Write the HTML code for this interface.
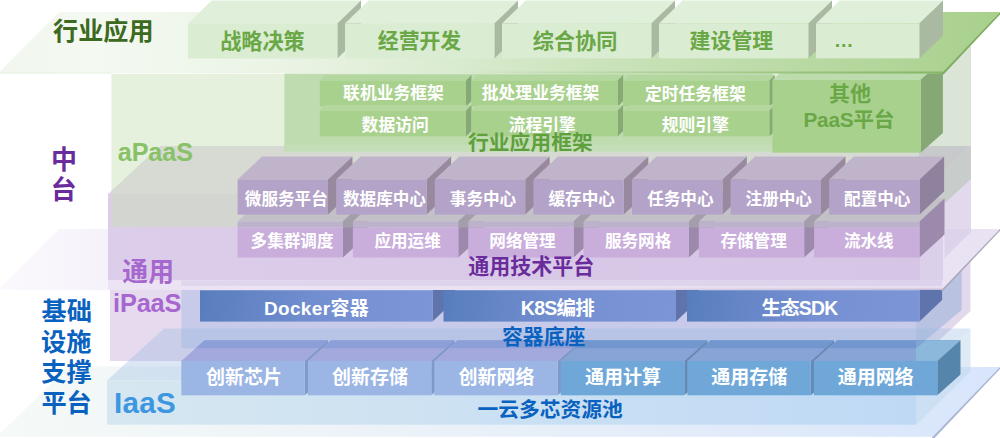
<!DOCTYPE html>
<html lang="zh-CN">
<head>
<meta charset="utf-8">
<title>云平台总体架构</title>
<style>
html,body{margin:0;padding:0;background:#fff;}
body{width:1000px;height:438px;position:relative;overflow:hidden;font-family:"Liberation Sans",sans-serif;}
#stage{position:absolute;left:0;top:0;width:1000px;height:438px;overflow:hidden;background:#fff;}
#labels span{position:absolute;display:block;white-space:nowrap;overflow:hidden;font-weight:bold;color:transparent;font-family:"Liberation Sans",sans-serif;}
svg text{font-family:"Liberation Sans","Noto Sans CJK SC",sans-serif;font-weight:bold;}
</style>
</head>
<body>
<div id="stage">
<svg width="1000" height="438" viewBox="0 0 1000 438" style="position:absolute;left:0;top:0;display:block"><defs><linearGradient id="g1" gradientUnits="userSpaceOnUse" x1="0" y1="0" x2="1000" y2="0"><stop offset="0" stop-color="#f5f9f7"/><stop offset="0.35" stop-color="#edf3f8"/><stop offset="1" stop-color="#d8e5fb"/></linearGradient><linearGradient id="g2" gradientUnits="userSpaceOnUse" x1="107" y1="0" x2="916" y2="0"><stop offset="0" stop-color="#d6e7f0"/><stop offset="1" stop-color="#bfd9f5"/></linearGradient><linearGradient id="g3" gradientUnits="userSpaceOnUse" x1="200" y1="290" x2="432.5" y2="322"><stop offset="0" stop-color="#587dbd"/><stop offset="0.55" stop-color="#7590d2"/><stop offset="1" stop-color="#7c95d7"/></linearGradient><linearGradient id="g4" gradientUnits="userSpaceOnUse" x1="443.5" y1="290" x2="676" y2="322"><stop offset="0" stop-color="#587dbd"/><stop offset="0.55" stop-color="#7590d2"/><stop offset="1" stop-color="#7c95d7"/></linearGradient><linearGradient id="g5" gradientUnits="userSpaceOnUse" x1="687" y1="290" x2="919.5" y2="322"><stop offset="0" stop-color="#587dbd"/><stop offset="0.55" stop-color="#7590d2"/><stop offset="1" stop-color="#7c95d7"/></linearGradient><linearGradient id="g6" gradientUnits="userSpaceOnUse" x1="0" y1="0" x2="1000" y2="0"><stop offset="0" stop-color="#fbf9fd"/><stop offset="0.12" stop-color="#f5f1fa"/><stop offset="0.4" stop-color="#f0eaf6"/><stop offset="1" stop-color="#e9e2f3"/></linearGradient><linearGradient id="g7" gradientUnits="userSpaceOnUse" x1="108" y1="0" x2="920" y2="0"><stop offset="0" stop-color="#dccdea"/><stop offset="1" stop-color="#d6c5e5"/></linearGradient><linearGradient id="g8" gradientUnits="userSpaceOnUse" x1="108" y1="0" x2="942" y2="0"><stop offset="0" stop-color="#ece4f4"/><stop offset="1" stop-color="#e7def1"/></linearGradient><linearGradient id="g9" gradientUnits="userSpaceOnUse" x1="500" y1="0" x2="942" y2="0"><stop offset="0" stop-color="#c9bfd8" stop-opacity="0"/><stop offset="1" stop-color="#c4bad3" stop-opacity="0.9"/></linearGradient><linearGradient id="g10" gradientUnits="userSpaceOnUse" x1="0" y1="0" x2="1000" y2="0"><stop offset="0" stop-color="#f1f7ee"/><stop offset="0.1" stop-color="#f4f9f1"/><stop offset="0.3" stop-color="#e9f3e3"/><stop offset="0.6" stop-color="#cbe3bc"/><stop offset="1" stop-color="#a8d08c"/></linearGradient><linearGradient id="g11" gradientUnits="userSpaceOnUse" x1="450" y1="0" x2="942" y2="0"><stop offset="0" stop-color="#8ebc70" stop-opacity="0"/><stop offset="0.6" stop-color="#8ebc70" stop-opacity="0.6"/><stop offset="1" stop-color="#86b667" stop-opacity="1"/></linearGradient><linearGradient id="g12" gradientUnits="userSpaceOnUse" x1="188" y1="0" x2="337.4" y2="0"><stop offset="0" stop-color="#d9ebd0"/><stop offset="1" stop-color="#dcedd4"/></linearGradient><linearGradient id="g13" gradientUnits="userSpaceOnUse" x1="345" y1="0" x2="494.4" y2="0"><stop offset="0" stop-color="#d9ebd0"/><stop offset="1" stop-color="#dcedd4"/></linearGradient><linearGradient id="g14" gradientUnits="userSpaceOnUse" x1="502" y1="0" x2="651.4" y2="0"><stop offset="0" stop-color="#d9ebd0"/><stop offset="1" stop-color="#dcedd4"/></linearGradient><linearGradient id="g15" gradientUnits="userSpaceOnUse" x1="659" y1="0" x2="808.4" y2="0"><stop offset="0" stop-color="#d9ebd0"/><stop offset="1" stop-color="#dcedd4"/></linearGradient><linearGradient id="g16" gradientUnits="userSpaceOnUse" x1="816" y1="0" x2="919.4" y2="0"><stop offset="0" stop-color="#d9ebd0"/><stop offset="1" stop-color="#dcedd4"/></linearGradient></defs>
<polygon points="68.5,366.5 1000,367 933,436.8 -3,436.8" fill="url(#g1)"/>
<polygon points="1000,367 1000,369 934.5,438 931.5,438 933,436.5" fill="#a9b6d3"/>
<polygon points="917,300 970.5,250 970.5,311 917,361" fill="#e2d9ed"/>
<rect x="110" y="284" width="807" height="77" fill="#e6daef"/>
<polygon points="916,290 961.7,248 961.7,310 916,348.3" fill="#bac2e1"/>
<rect x="181.3" y="284" width="734.7" height="64.3" fill="#c8cae9"/>
<polygon points="916,380.5 970.5,328.5 970.5,371.5 916,425" fill="rgba(190,215,235,0.5)"/>
<polygon points="107,380.5 164,328.5 970.5,328.5 916,380.5" fill="rgba(150,185,222,0.34)"/>
<rect x="107" y="380.5" width="809" height="44.2" fill="url(#g2)"/>
<polygon points="432.5,290.3 455.1,268.8 455.1,300.1 432.5,321.6" fill="#5f73ad"/>
<rect x="200" y="290.3" width="232.5" height="31.3" fill="url(#g3)"/>
<polygon points="676,290.3 698.6,268.8 698.6,300.1 676,321.6" fill="#5f73ad"/>
<rect x="443.5" y="290.3" width="232.5" height="31.3" fill="url(#g4)"/>
<polygon points="919.5,290.3 942.1,268.8 942.1,300.1 919.5,321.6" fill="#5f73ad"/>
<rect x="687" y="290.3" width="232.5" height="31.3" fill="url(#g5)"/>
<polygon points="181.3,361 204.5,340.2 328,340.2 304.8,361" fill="#a4a9dd"/>
<polygon points="195.5,348.3 204.5,340.2 328,340.2 319,348.3" fill="#8c9fd8"/>
<polygon points="304.8,361 328,340.2 328,374.5 304.8,395.3" fill="#7f98c6"/>
<rect x="181.3" y="361" width="123.5" height="34.3" fill="#9bb5e4"/>
<polygon points="307.8,361 331,340.2 454.5,340.2 431.3,361" fill="#a4a9dd"/>
<polygon points="322,348.3 331,340.2 454.5,340.2 445.5,348.3" fill="#8c9fd8"/>
<polygon points="431.3,361 454.5,340.2 454.5,374.5 431.3,395.3" fill="#7f98c6"/>
<rect x="307.8" y="361" width="123.5" height="34.3" fill="#9bb5e4"/>
<polygon points="434.3,361 457.5,340.2 581,340.2 557.8,361" fill="#a4a9dd"/>
<polygon points="448.5,348.3 457.5,340.2 581,340.2 572,348.3" fill="#8c9fd8"/>
<polygon points="557.8,361 581,340.2 581,374.5 557.8,395.3" fill="#7f98c6"/>
<rect x="434.3" y="361" width="123.5" height="34.3" fill="#9bb5e4"/>
<polygon points="560.8,361 584,340.2 707.5,340.2 684.3,361" fill="#88a3d5"/>
<polygon points="575,348.3 584,340.2 707.5,340.2 698.5,348.3" fill="#7297cf"/>
<polygon points="684.3,361 707.5,340.2 707.5,374.5 684.3,395.3" fill="#6489b6"/>
<rect x="560.8" y="361" width="123.5" height="34.3" fill="#6fa8d8"/>
<polygon points="687.3,361 710.5,340.2 834,340.2 810.8,361" fill="#88a3d5"/>
<polygon points="701.5,348.3 710.5,340.2 834,340.2 825,348.3" fill="#7297cf"/>
<polygon points="810.8,361 834,340.2 834,374.5 810.8,395.3" fill="#6489b6"/>
<rect x="687.3" y="361" width="123.5" height="34.3" fill="#6fa8d8"/>
<polygon points="813.8,361 837,340.2 960.5,340.2 937.3,361" fill="#88a3d5"/>
<polygon points="828,348.3 837,340.2 960.5,340.2 951.5,348.3" fill="#7297cf"/>
<polygon points="916,361 916,348.3 925.7,340.2 960.5,340.2 937.3,361" fill="#8cb8dc"/>
<polygon points="916,348.3 916,340.2 925.7,340.2" fill="#80a4d6"/>
<polygon points="937.3,361 960.5,340.2 960.5,374.5 937.3,395.3" fill="#5685ab"/>
<rect x="813.8" y="361" width="123.5" height="34.3" fill="#6fa8d8"/>
<polygon points="108,194 160,146 971,146 921,194" fill="#e4d5ec"/>
<polygon points="921,194 971,146 971,232 921,280.5" fill="#e3d9ec"/>
<rect x="108" y="194" width="813" height="86.5" fill="#ddcde8"/>
<polygon points="919,74 971,26 971,179 919,227" fill="rgba(150,180,140,0.35)"/>
<rect x="111.4" y="74" width="807.6" height="153.2" fill="rgba(197,224,180,0.45)"/>
<polygon points="59,229 1000,229 942,290 -2,290" fill="url(#g6)"/>
<polygon points="1000,229 1000,230.8 943,290.8 941,290.8 942,289.5" fill="#aca6b8"/>
<polygon points="944.5,229 971,229 971,232 944.5,258" fill="rgba(200,180,220,0.35)"/>
<rect x="920" y="229" width="23" height="51.5" fill="#dbcfea"/>
<rect x="108" y="227.2" width="812" height="53.3" fill="url(#g7)"/>
<rect x="108" y="280.5" width="834" height="9.5" fill="url(#g8)"/>
<rect x="181.3" y="280.5" width="760.7" height="5.3" fill="rgba(190,165,215,0.22)"/>
<polygon points="500,288.6 943,288.6 942,290 500,290" fill="url(#g9)"/>
<rect x="284.4" y="73.5" width="488.6" height="78" fill="#bedcaf"/>
<rect x="284.4" y="144.8" width="488.6" height="6.7" fill="#c4dfb8"/>
<polygon points="319.8,80.6 325.3,75.1 471.5,75.1 466,80.6" fill="#b3d79f"/>
<polygon points="466,80.6 471.5,75.1 471.5,100.9 466,106.4" fill="#87a975"/>
<rect x="319.8" y="80.6" width="146.2" height="25.8" fill="#a9d18e"/>
<polygon points="471.5,80.6 477,75.1 623.2,75.1 617.7,80.6" fill="#b3d79f"/>
<polygon points="617.7,80.6 623.2,75.1 623.2,100.9 617.7,106.4" fill="#87a975"/>
<rect x="471.5" y="80.6" width="146.2" height="25.8" fill="#a9d18e"/>
<polygon points="623.2,80.6 628.7,75.1 774.9,75.1 769.4,80.6" fill="#b3d79f"/>
<polygon points="769.4,80.6 774.9,75.1 774.9,100.9 769.4,106.4" fill="#87a975"/>
<rect x="623.2" y="80.6" width="146.2" height="25.8" fill="#a9d18e"/>
<polygon points="319.8,110.6 325.3,105.1 471.5,105.1 466,110.6" fill="#b3d79f"/>
<polygon points="466,110.6 471.5,105.1 471.5,130.9 466,136.4" fill="#87a975"/>
<rect x="319.8" y="110.6" width="146.2" height="25.8" fill="#a9d18e"/>
<polygon points="471.5,110.6 477,105.1 623.2,105.1 617.7,110.6" fill="#b3d79f"/>
<polygon points="617.7,110.6 623.2,105.1 623.2,130.9 617.7,136.4" fill="#87a975"/>
<rect x="471.5" y="110.6" width="146.2" height="25.8" fill="#a9d18e"/>
<polygon points="623.2,110.6 628.7,105.1 774.9,105.1 769.4,110.6" fill="#b3d79f"/>
<polygon points="769.4,110.6 774.9,105.1 774.9,130.9 769.4,136.4" fill="#87a975"/>
<rect x="623.2" y="110.6" width="146.2" height="25.8" fill="#a9d18e"/>
<polygon points="772.4,79.7 794.7,59.9 942.9,59.9 920.6,79.7" fill="#bddcae"/>
<polygon points="920.6,79.7 942.9,59.9 942.9,132.9 920.6,152.7" fill="#86a874"/>
<rect x="772.4" y="79.7" width="148.2" height="73" fill="#a9d18e"/>
<polygon points="59,12 1000,12 942,73.5 -2,73.5" fill="url(#g10)"/>
<polygon points="450,71.6 943.4,71.6 942,73.5 450,73.5" fill="url(#g11)"/>
<polygon points="1000,12 1000,14.5 943.5,74.5 940,74.5 942,73" fill="#7fae62"/>
<rect x="0" y="72.5" width="111.4" height="1" fill="#e7f1e1"/>
<polygon points="188,23.6 211.6,0.6 361,0.6 337.4,23.6" fill="#e0efd9"/>
<polygon points="337.4,23.6 361,0.6 361,35.4 337.4,58.4" fill="#a9b9a2"/>
<rect x="188" y="23.6" width="149.4" height="34.8" fill="#daecd1"/>
<polygon points="345,23.6 368.6,0.6 518,0.6 494.4,23.6" fill="#e0efd9"/>
<polygon points="494.4,23.6 518,0.6 518,35.4 494.4,58.4" fill="#a9b9a2"/>
<rect x="345" y="23.6" width="149.4" height="34.8" fill="#daecd1"/>
<polygon points="502,23.6 525.6,0.6 675,0.6 651.4,23.6" fill="#e0efd9"/>
<polygon points="651.4,23.6 675,0.6 675,35.4 651.4,58.4" fill="#a9b9a2"/>
<rect x="502" y="23.6" width="149.4" height="34.8" fill="#daecd1"/>
<polygon points="659,23.6 682.6,0.6 832,0.6 808.4,23.6" fill="#e0efd9"/>
<polygon points="808.4,23.6 832,0.6 832,35.4 808.4,58.4" fill="#a9b9a2"/>
<rect x="659" y="23.6" width="149.4" height="34.8" fill="#daecd1"/>
<polygon points="816,23.6 839.6,0.6 943,0.6 919.4,23.6" fill="#e0efd9"/>
<polygon points="919.4,23.6 943,0.6 943,35.4 919.4,58.4" fill="#a9b9a2"/>
<rect x="816" y="23.6" width="103.4" height="34.8" fill="#daecd1"/>
<polygon points="237.6,221.5 262.6,198.5 368,198.5 343,221.5" fill="#c3c1c7"/>
<polygon points="343,221.5 368,198.5 368,234.5 343,257.5" fill="#9c89ab"/>
<polygon points="343,221.5 368,198.5 368,227.5 343,227.5" fill="#a39ea9"/>
<rect x="237.6" y="221.5" width="105.4" height="6" fill="#bcb2cc"/>
<rect x="237.6" y="227.5" width="105.4" height="30" fill="#c9aedb"/>
<polygon points="352.9,221.5 377.9,198.5 483.3,198.5 458.3,221.5" fill="#c3c1c7"/>
<polygon points="458.3,221.5 483.3,198.5 483.3,234.5 458.3,257.5" fill="#9c89ab"/>
<polygon points="458.3,221.5 483.3,198.5 483.3,227.5 458.3,227.5" fill="#a39ea9"/>
<rect x="352.9" y="221.5" width="105.4" height="6" fill="#bcb2cc"/>
<rect x="352.9" y="227.5" width="105.4" height="30" fill="#c9aedb"/>
<polygon points="468.2,221.5 493.2,198.5 598.6,198.5 573.6,221.5" fill="#c3c1c7"/>
<polygon points="573.6,221.5 598.6,198.5 598.6,234.5 573.6,257.5" fill="#9c89ab"/>
<polygon points="573.6,221.5 598.6,198.5 598.6,227.5 573.6,227.5" fill="#a39ea9"/>
<rect x="468.2" y="221.5" width="105.4" height="6" fill="#bcb2cc"/>
<rect x="468.2" y="227.5" width="105.4" height="30" fill="#c9aedb"/>
<polygon points="583.5,221.5 608.5,198.5 713.9,198.5 688.9,221.5" fill="#c3c1c7"/>
<polygon points="688.9,221.5 713.9,198.5 713.9,234.5 688.9,257.5" fill="#9c89ab"/>
<polygon points="688.9,221.5 713.9,198.5 713.9,227.5 688.9,227.5" fill="#a39ea9"/>
<rect x="583.5" y="221.5" width="105.4" height="6" fill="#bcb2cc"/>
<rect x="583.5" y="227.5" width="105.4" height="30" fill="#c9aedb"/>
<polygon points="698.8,221.5 723.8,198.5 829.2,198.5 804.2,221.5" fill="#c3c1c7"/>
<polygon points="804.2,221.5 829.2,198.5 829.2,234.5 804.2,257.5" fill="#9c89ab"/>
<polygon points="804.2,221.5 829.2,198.5 829.2,227.5 804.2,227.5" fill="#a39ea9"/>
<rect x="698.8" y="221.5" width="105.4" height="6" fill="#bcb2cc"/>
<rect x="698.8" y="227.5" width="105.4" height="30" fill="#c9aedb"/>
<polygon points="814.1,221.5 839.1,198.5 944.5,198.5 919.5,221.5" fill="#c3c1c7"/>
<polygon points="919.5,221.5 944.5,198.5 944.5,234.5 919.5,257.5" fill="#9c89ab"/>
<rect x="814.1" y="221.5" width="105.4" height="6" fill="#bcb2cc"/>
<rect x="814.1" y="227.5" width="105.4" height="30" fill="#c9aedb"/>
<polygon points="237.6,179.5 262.1,156.5 352.5,156.5 328,179.5" fill="#c0b4ca"/>
<polygon points="328,179.5 352.5,156.5 352.5,191.6 328,214.6" fill="#98899f"/>
<rect x="237.6" y="179.5" width="90.4" height="35.1" fill="#b4a3c8"/>
<polygon points="336.2,179.5 360.7,156.5 451.1,156.5 426.6,179.5" fill="#c0b4ca"/>
<polygon points="426.6,179.5 451.1,156.5 451.1,191.6 426.6,214.6" fill="#98899f"/>
<rect x="336.2" y="179.5" width="90.4" height="35.1" fill="#b4a3c8"/>
<polygon points="434.8,179.5 459.3,156.5 549.7,156.5 525.2,179.5" fill="#c0b4ca"/>
<polygon points="525.2,179.5 549.7,156.5 549.7,191.6 525.2,214.6" fill="#98899f"/>
<rect x="434.8" y="179.5" width="90.4" height="35.1" fill="#b4a3c8"/>
<polygon points="533.4,179.5 557.9,156.5 648.3,156.5 623.8,179.5" fill="#c0b4ca"/>
<polygon points="623.8,179.5 648.3,156.5 648.3,191.6 623.8,214.6" fill="#98899f"/>
<rect x="533.4" y="179.5" width="90.4" height="35.1" fill="#b4a3c8"/>
<polygon points="632,179.5 656.5,156.5 746.9,156.5 722.4,179.5" fill="#c0b4ca"/>
<polygon points="722.4,179.5 746.9,156.5 746.9,191.6 722.4,214.6" fill="#98899f"/>
<rect x="632" y="179.5" width="90.4" height="35.1" fill="#b4a3c8"/>
<polygon points="730.6,179.5 755.1,156.5 845.5,156.5 821,179.5" fill="#c0b4ca"/>
<polygon points="821,179.5 845.5,156.5 845.5,191.6 821,214.6" fill="#98899f"/>
<rect x="730.6" y="179.5" width="90.4" height="35.1" fill="#b4a3c8"/>
<polygon points="829.2,179.5 853.7,156.5 944.1,156.5 919.6,179.5" fill="#c0b4ca"/>
<polygon points="919.6,179.5 944.1,156.5 944.1,191.6 919.6,214.6" fill="#8f829f"/>
<rect x="829.2" y="179.5" width="90.4" height="35.1" fill="#b4a3c8"/>
<text x="220.2" y="48.5" font-size="21.15" fill="#6aa746">战略决策</text>
<text x="377.8" y="48.4" font-size="20.85" fill="#6aa746">经营开发</text>
<text x="532.8" y="48.5" font-size="21.14" fill="#6aa746">综合协同</text>
<text x="689.6" y="48.4" font-size="20.91" fill="#6aa746">建设管理</text>
<text x="833.9" y="47.3" font-size="19.5" fill="#6aa746">…</text>
<text x="53" y="39.5" font-size="25.13" fill="#3c6a20">行业应用</text>
<text x="343.1" y="99.3" font-size="16.8" fill="#ffffff">联机业务框架</text>
<text x="481.8" y="99.4" font-size="16.8" fill="#ffffff">批处理业务框架</text>
<text x="645" y="99.5" font-size="16.8" fill="#ffffff">定时任务框架</text>
<text x="361.6" y="130.8" font-size="16.8" fill="#ffffff">数据访问</text>
<text x="508.7" y="130.8" font-size="16.8" fill="#ffffff">流程引擎</text>
<text x="661.8" y="130.8" font-size="16.8" fill="#ffffff">规则引擎</text>
<text x="829" y="100.9" font-size="20.99" fill="#6aa746">其他</text>
<text x="803.5" y="126.6" font-size="20.77" fill="#6aa746" textLength="91.1" lengthAdjust="spacing">PaaS平台</text>
<text x="468" y="150.4" font-size="20.79" fill="#5fa03d">行业应用框架</text>
<text x="50.9" y="168.9" font-size="26" fill="#6a2c9c">中</text>
<text x="50.7" y="199.2" font-size="25.8" fill="#6a2c9c">台</text>
<text x="117.8" y="161.3" font-size="25.13" fill="#88c168" textLength="75.1" lengthAdjust="spacing">aPaaS</text>
<text x="244.8" y="204.7" font-size="16.6" fill="#ffffff">微服务平台</text>
<text x="343" y="204.6" font-size="16.6" fill="#ffffff">数据库中心</text>
<text x="449.8" y="204.6" font-size="16.6" fill="#ffffff">事务中心</text>
<text x="548.5" y="204.6" font-size="16.6" fill="#ffffff">缓存中心</text>
<text x="647.2" y="204.6" font-size="16.6" fill="#ffffff">任务中心</text>
<text x="745.6" y="204.6" font-size="16.6" fill="#ffffff">注册中心</text>
<text x="844.1" y="204.6" font-size="16.6" fill="#ffffff">配置中心</text>
<text x="250.6" y="246.8" font-size="16.6" fill="#ffffff">多集群调度</text>
<text x="374.4" y="246.8" font-size="16.6" fill="#ffffff">应用运维</text>
<text x="489.3" y="246.9" font-size="16.6" fill="#ffffff">网络管理</text>
<text x="604.9" y="246.8" font-size="16.6" fill="#ffffff">服务网格</text>
<text x="720.4" y="246.9" font-size="16.6" fill="#ffffff">存储管理</text>
<text x="843.9" y="246.8" font-size="16.6" fill="#ffffff">流水线</text>
<text x="468.2" y="273.6" font-size="21.04" fill="#6a2c9c">通用技术平台</text>
<text x="122.3" y="281.4" font-size="25.83" fill="#a667cf">通用</text>
<text x="113.1" y="311.5" font-size="25.34" fill="#a667cf" textLength="68.2" lengthAdjust="spacing">iPaaS</text>
<text x="263.9" y="314.6" font-size="18.92" fill="#ffffff" textLength="104.8" lengthAdjust="spacing">Docker容器</text>
<text x="520.8" y="314.8" font-size="19.53" fill="#ffffff" textLength="74" lengthAdjust="spacing">K8S编排</text>
<text x="761.6" y="315" font-size="19.37" fill="#ffffff" textLength="76.6" lengthAdjust="spacing">生态SDK</text>
<text x="502" y="344.3" font-size="20.87" fill="#0a62c0">容器底座</text>
<text x="206" y="384.1" font-size="19" fill="#ffffff">创新芯片</text>
<text x="331.9" y="384.2" font-size="19" fill="#ffffff">创新存储</text>
<text x="458.4" y="384.3" font-size="19" fill="#ffffff">创新网络</text>
<text x="584.9" y="384.1" font-size="19" fill="#ffffff">通用计算</text>
<text x="711.3" y="384.1" font-size="19" fill="#ffffff">通用存储</text>
<text x="837.8" y="384.2" font-size="19" fill="#ffffff">通用网络</text>
<text x="477.5" y="417.1" font-size="20.75" fill="#0a62c0">一云多芯资源池</text>
<text x="41.6" y="320.4" font-size="25.2" fill="#0a62c0">基础</text>
<text x="41.1" y="350.8" font-size="25.2" fill="#0a62c0">设施</text>
<text x="41.3" y="381.1" font-size="25.2" fill="#0a62c0">支撑</text>
<text x="41.4" y="411.8" font-size="25.2" fill="#0a62c0">平台</text>
<text x="114.1" y="413.1" font-size="29.54" fill="#3d96e0" textLength="61.7" lengthAdjust="spacing">IaaS</text>
</svg>
<div id="labels">
<span style="left:220.2px;top:29.9px;width:84.6px;height:24.7px;font-size:21.2px;line-height:24.7px">战略决策</span>
<span style="left:377.8px;top:30px;width:83.4px;height:24.4px;font-size:20.8px;line-height:24.4px">经营开发</span>
<span style="left:532.8px;top:29.9px;width:84.6px;height:24.7px;font-size:21.1px;line-height:24.7px">综合协同</span>
<span style="left:689.6px;top:30px;width:83.6px;height:24.5px;font-size:20.9px;line-height:24.5px">建设管理</span>
<span style="left:833.9px;top:36.5px;width:19.5px;height:22.8px;font-size:19.5px;line-height:22.8px">…</span>
<span style="left:53px;top:17.4px;width:100.5px;height:29.4px;font-size:25.1px;line-height:29.4px">行业应用</span>
<span style="left:343.1px;top:84.5px;width:100.8px;height:19.7px;font-size:16.8px;line-height:19.7px">联机业务框架</span>
<span style="left:481.8px;top:84.6px;width:117.6px;height:19.7px;font-size:16.8px;line-height:19.7px">批处理业务框架</span>
<span style="left:645px;top:84.7px;width:100.8px;height:19.7px;font-size:16.8px;line-height:19.7px">定时任务框架</span>
<span style="left:361.6px;top:116px;width:67.2px;height:19.7px;font-size:16.8px;line-height:19.7px">数据访问</span>
<span style="left:508.7px;top:116px;width:67.2px;height:19.7px;font-size:16.8px;line-height:19.7px">流程引擎</span>
<span style="left:661.8px;top:116px;width:67.2px;height:19.7px;font-size:16.8px;line-height:19.7px">规则引擎</span>
<span style="left:829px;top:82.4px;width:42px;height:24.6px;font-size:21px;line-height:24.6px">其他</span>
<span style="left:803.5px;top:108.3px;width:91.1px;height:24.3px;font-size:20.8px;line-height:24.3px">PaaS平台</span>
<span style="left:468px;top:132.1px;width:124.7px;height:24.3px;font-size:20.8px;line-height:24.3px">行业应用框架</span>
<span style="left:50.9px;top:146px;width:26px;height:30.4px;font-size:26px;line-height:30.4px">中</span>
<span style="left:50.7px;top:176.5px;width:25.8px;height:30.2px;font-size:25.8px;line-height:30.2px">台</span>
<span style="left:117.8px;top:139.2px;width:75.1px;height:29.4px;font-size:25.1px;line-height:29.4px">aPaaS</span>
<span style="left:244.8px;top:190.1px;width:83px;height:19.4px;font-size:16.6px;line-height:19.4px">微服务平台</span>
<span style="left:343px;top:190px;width:83px;height:19.4px;font-size:16.6px;line-height:19.4px">数据库中心</span>
<span style="left:449.8px;top:190px;width:66.4px;height:19.4px;font-size:16.6px;line-height:19.4px">事务中心</span>
<span style="left:548.5px;top:190px;width:66.4px;height:19.4px;font-size:16.6px;line-height:19.4px">缓存中心</span>
<span style="left:647.2px;top:190px;width:66.4px;height:19.4px;font-size:16.6px;line-height:19.4px">任务中心</span>
<span style="left:745.6px;top:190px;width:66.4px;height:19.4px;font-size:16.6px;line-height:19.4px">注册中心</span>
<span style="left:844.1px;top:190px;width:66.4px;height:19.4px;font-size:16.6px;line-height:19.4px">配置中心</span>
<span style="left:250.6px;top:232.2px;width:83px;height:19.4px;font-size:16.6px;line-height:19.4px">多集群调度</span>
<span style="left:374.4px;top:232.2px;width:66.4px;height:19.4px;font-size:16.6px;line-height:19.4px">应用运维</span>
<span style="left:489.3px;top:232.3px;width:66.4px;height:19.4px;font-size:16.6px;line-height:19.4px">网络管理</span>
<span style="left:604.9px;top:232.2px;width:66.4px;height:19.4px;font-size:16.6px;line-height:19.4px">服务网格</span>
<span style="left:720.4px;top:232.2px;width:66.4px;height:19.4px;font-size:16.6px;line-height:19.4px">存储管理</span>
<span style="left:843.9px;top:232.2px;width:49.8px;height:19.4px;font-size:16.6px;line-height:19.4px">流水线</span>
<span style="left:468.2px;top:255.1px;width:126.3px;height:24.6px;font-size:21px;line-height:24.6px">通用技术平台</span>
<span style="left:122.3px;top:258.7px;width:51.7px;height:30.2px;font-size:25.8px;line-height:30.2px">通用</span>
<span style="left:113.1px;top:289.2px;width:68.2px;height:29.6px;font-size:25.3px;line-height:29.6px">iPaaS</span>
<span style="left:263.9px;top:297.9px;width:104.8px;height:22.1px;font-size:18.9px;line-height:22.1px">Docker容器</span>
<span style="left:520.8px;top:297.6px;width:74px;height:22.9px;font-size:19.5px;line-height:22.9px">K8S编排</span>
<span style="left:761.6px;top:297.9px;width:76.6px;height:22.7px;font-size:19.4px;line-height:22.7px">生态SDK</span>
<span style="left:502px;top:326px;width:83.5px;height:24.4px;font-size:20.9px;line-height:24.4px">容器底座</span>
<span style="left:206px;top:367.4px;width:76px;height:22.2px;font-size:19px;line-height:22.2px">创新芯片</span>
<span style="left:331.9px;top:367.4px;width:76px;height:22.2px;font-size:19px;line-height:22.2px">创新存储</span>
<span style="left:458.4px;top:367.5px;width:76px;height:22.2px;font-size:19px;line-height:22.2px">创新网络</span>
<span style="left:584.9px;top:367.4px;width:76px;height:22.2px;font-size:19px;line-height:22.2px">通用计算</span>
<span style="left:711.3px;top:367.4px;width:76px;height:22.2px;font-size:19px;line-height:22.2px">通用存储</span>
<span style="left:837.8px;top:367.5px;width:76px;height:22.2px;font-size:19px;line-height:22.2px">通用网络</span>
<span style="left:477.5px;top:398.9px;width:145.2px;height:24.3px;font-size:20.7px;line-height:24.3px">一云多芯资源池</span>
<span style="left:41.6px;top:298.3px;width:50.4px;height:29.5px;font-size:25.2px;line-height:29.5px">基础</span>
<span style="left:41.1px;top:328.6px;width:50.4px;height:29.5px;font-size:25.2px;line-height:29.5px">设施</span>
<span style="left:41.3px;top:359px;width:50.4px;height:29.5px;font-size:25.2px;line-height:29.5px">支撑</span>
<span style="left:41.4px;top:389.6px;width:50.4px;height:29.5px;font-size:25.2px;line-height:29.5px">平台</span>
<span style="left:114.1px;top:387.1px;width:61.7px;height:34.6px;font-size:29.5px;line-height:34.6px">IaaS</span>
</div>
</div>
</body>
</html>
